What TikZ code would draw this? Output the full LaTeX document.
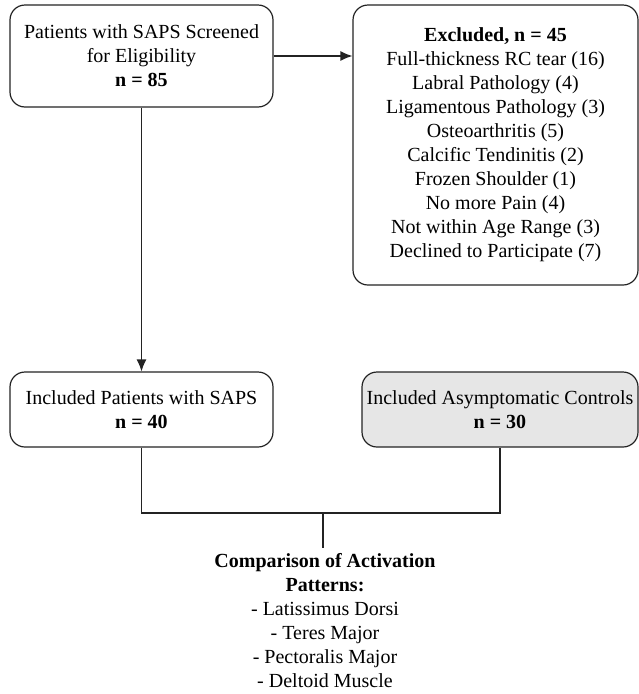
\documentclass[tikz,border=0pt]{standalone}
\usepackage{fontspec}
\setmainfont{Liberation Serif}
\usepackage{xcolor}
\usepackage{tikz}
\usetikzlibrary{positioning,arrows.meta}
\definecolor{boxline}{RGB}{35,35,35}
\definecolor{ctrlgray}{RGB}{230,230,230}

\begin{document}
\begin{tikzpicture}[x=1pt,y=-1pt,
		flowbox/.style={draw=boxline,line width=1.2pt,rounded corners=15pt,align=center,inner sep=0pt,font=\fontsize{20}{24}\selectfont},
		link/.style={draw=boxline,line width=1.2pt}]
				\useasboundingbox (0,0) rectangle (639,694);
				% boxes
				\node[flowbox,minimum width=263pt,minimum height=102pt] (screen) at (141.5,56)
					{Patients with SAPS Screened\\for Eligibility\\\textbf{n = 85}};
				\node[flowbox,minimum width=285pt,minimum height=280pt] (excl) at (495.5,145)
					{\textbf{Excluded, n = 45}\\Full-thickness RC tear (16)\\Labral Pathology (4)\\Ligamentous Pathology (3)\\Osteoarthritis (5)\\Calcific Tendinitis (2)\\Frozen Shoulder (1)\\No more Pain (4)\\Not within Age Range (3)\\Declined to Participate (7)};
				\node[flowbox,minimum width=263pt,minimum height=75pt] (saps) at (141.5,409.5)
					{Included Patients with SAPS\\\textbf{n = 40}};
				\node[flowbox,fill=ctrlgray,minimum width=276pt,minimum height=75pt] (ctrl) at (500,409.5)
					{Included Asymptomatic Controls\\\textbf{n = 30}};
				% outcome text
				\node[align=center,inner sep=0pt,anchor=north,font=\fontsize{20}{24}\selectfont] (comp) at (325,553)
					{\textbf{Comparison of Activation}\\\textbf{Patterns:}\\- Latissimus Dorsi\\- Teres Major\\- Pectoralis Major\\- Deltoid Muscle};
				% connectors
				\coordinate (join) at (323,513);
				\draw[link,-{Latex[length=12pt,width=10pt]}] (screen.east) -- (screen.east -| excl.west);
				\draw[link,-{Latex[length=12pt,width=10pt]}] (screen.south) -- (saps.north);
				\draw[link] (saps.south) |- (join) -| (ctrl.south);
				\draw[link] (join) -- (join |- 0,548);
			\end{tikzpicture}
\end{document}
